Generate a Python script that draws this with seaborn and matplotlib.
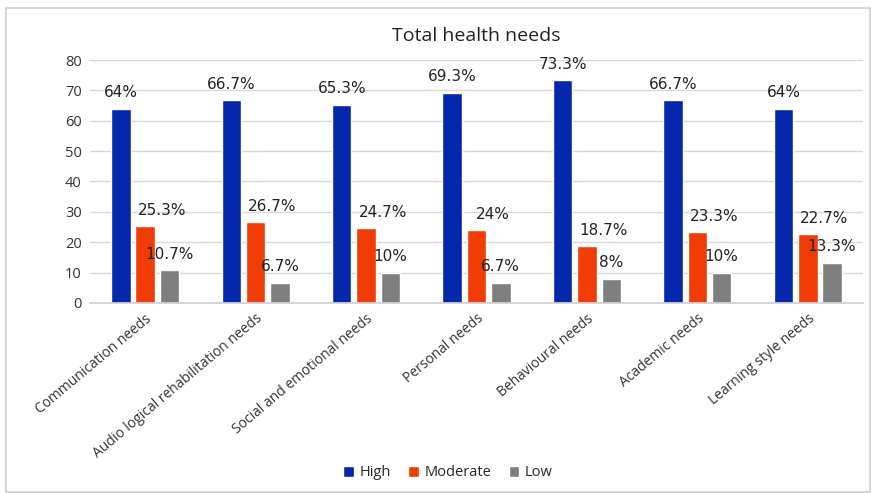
import matplotlib
matplotlib.use("Agg")
import matplotlib.pyplot as plt
import seaborn as sns
import pandas as pd
from matplotlib.patches import Rectangle

categories = ["Communication needs", "Audio logical rehabilitation needs",
              "Social and emotional needs", "Personal needs", "Behavioural needs",
              "Academic needs", "Learning style needs"]
high = [64, 66.7, 65.3, 69.3, 73.3, 66.7, 64]
moderate = [25.3, 26.7, 24.7, 24, 18.7, 23.3, 22.7]
low = [10.7, 6.7, 10, 6.7, 8, 10, 13.3]
series = ["High", "Moderate", "Low"]
colors = ["#0527AB", "#F23C05", "#7F7F7F"]
y_ticks = [0, 10, 20, 30, 40, 50, 60, 70, 80]

rows = []
for name, vals in zip(series, [high, moderate, low]):
    for c, v in zip(categories, vals):
        rows.append({"Category": c, "Level": name, "Value": v})
df = pd.DataFrame(rows)

sns.set_theme(style="white")
plt.rcParams["font.family"] = ["Open Sans", "DejaVu Sans"]

fig = plt.figure(figsize=(8.71, 4.93), dpi=100)
ax = fig.add_axes([90 / 871, 1 - 303 / 493, 773 / 871, (303 - 60) / 493])

sns.barplot(data=df, x="Category", y="Value", hue="Level", hue_order=series,
            palette=colors, width=0.66, gap=0.2, ax=ax, legend=True,
            saturation=1)

ax.set_ylim(0, 80)
ax.set_yticks(y_ticks)
ax.set_yticklabels([str(t) for t in y_ticks], fontsize=10.5, color="#333333")
ax.set_xlabel("")
ax.set_ylabel("")
ax.grid(axis="y", color="#D9D9D9", linewidth=1)
ax.set_axisbelow(True)
for s in ["top", "right", "left"]:
    ax.spines[s].set_visible(False)
ax.spines["bottom"].set_color("#D0D0D0")
ax.tick_params(axis="both", length=0, pad=6)
ax.set_xticks(range(len(categories)))
ax.set_xticklabels(categories, rotation=40, ha="right", rotation_mode="anchor",
                   fontsize=10, color="#333333")
ax.set_xlim(-0.5, len(categories) - 0.5)

x_shift = [0.0, 0.15, 0.0]
for i, cont in enumerate(ax.containers):
    for bar in cont:
        h = bar.get_height()
        lbl = f"{h:g}%"
        ax.annotate(lbl, (bar.get_x() + bar.get_width() / 2 + x_shift[i], h),
                    xytext=(0, 6), textcoords="offset points",
                    ha="center", va="bottom", fontsize=11, color="#222222",
                    family=["DejaVu Sans"])

ax.set_title("Total health needs", fontsize=14, color="#222222", pad=14)

leg = ax.legend(loc="center", ncol=3, frameon=False, fontsize=10.5,
                handlelength=0.7, handleheight=0.7,
                columnspacing=1.2, handletextpad=0.4)
leg.set_bbox_to_anchor((448 / 871, 1 - 473 / 493), transform=fig.transFigure)

fig.patches.append(Rectangle((6 / 871, 1 / 493), 864 / 871, 484 / 493,
                             transform=fig.transFigure, fill=False,
                             edgecolor="#D0D0D0", linewidth=1.2))

fig.savefig("out.png", dpi=100)
